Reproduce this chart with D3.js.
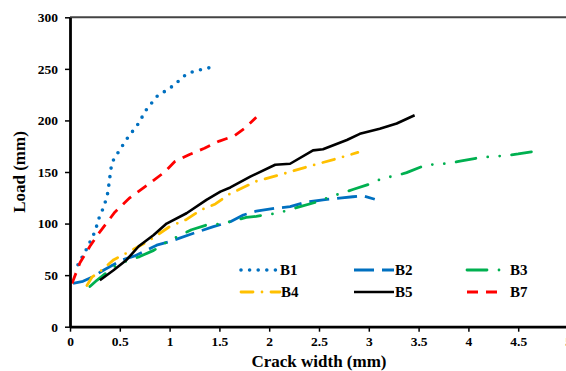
<!DOCTYPE html>
<html>
<head>
<meta charset="utf-8">
<script src="https://cdn.jsdelivr.net/npm/d3@7"></script>
<style>
  body { margin: 0; background: #fff; }
  svg { display: block; }
  text { font-family: "Liberation Serif", "Times New Roman", serif; font-weight: bold; }
</style>
</head>
<body>
<svg class="container"></svg>
<script>
// crack width (mm) / load values
const b1X = [0.08, 0.17, 0.25, 0.30, 0.34, 0.38, 0.40, 0.42, 0.47, 0.57, 0.68, 0.77, 0.88, 1.00, 1.10, 1.17, 1.26, 1.35, 1.44];
const b1Y = [60, 76, 92, 108, 116, 130, 145, 159, 167, 182, 196, 211, 224, 231, 239, 245, 248, 250, 252];

const b2X = [0.03, 0.13, 0.23, 0.34, 0.52, 0.65, 0.87, 1.00, 1.24, 1.44, 1.61, 1.74, 1.87, 2.06, 2.21, 2.37, 2.54, 2.73, 2.84, 2.94, 3.06];
const b2Y = [42, 44, 48.5, 55, 64.7, 68.6, 79, 82.4, 90.6, 97, 101.8, 108.3, 112, 114.8, 116.4, 120.7, 123, 125, 126, 127, 123.6];

const b3X = [0.20, 0.27, 0.44, 0.55, 0.70, 0.84, 0.97, 1.07, 1.22, 1.37, 1.51, 1.61, 1.77, 1.87, 2.08, 2.19, 2.31, 2.48, 2.61, 2.73, 2.84, 3.03, 3.15, 3.26, 3.38, 3.58, 3.70, 3.81, 3.93, 4.13, 4.27, 4.38, 4.50, 4.64];
const b3Y = [39, 45, 58, 63, 68, 74, 82, 87, 94, 98.6, 99.6, 102, 106, 107, 110, 113, 116.4, 121, 126, 129.5, 133, 139, 144.5, 146, 149.4, 157, 157.5, 158.5, 160.7, 164.3, 165, 166, 167.5, 169.7];

const b4X = [0.17, 0.22, 0.32, 0.44, 0.60, 0.77, 1.00, 1.17, 1.31, 1.46, 1.59, 1.87, 2.17, 2.38, 2.68, 2.89];
const b4Y = [40, 48, 55, 65, 73, 82, 97, 104, 113, 119, 128, 141, 149, 155, 163, 169];

const b5X = [0.30, 0.44, 0.57, 0.69, 0.84, 0.97, 1.17, 1.37, 1.51, 1.61, 1.81, 2.06, 2.21, 2.44, 2.54, 2.78, 2.91, 3.11, 3.28, 3.46];
const b5Y = [45, 55, 65, 78, 89, 100, 110, 123, 131, 135, 145.5, 157, 158, 171, 172, 181, 187, 192, 197, 205];

const b7X = [0.02, 0.10, 0.20, 0.30, 0.45, 0.60, 0.80, 0.95, 1.05, 1.20, 1.35, 1.50, 1.65, 1.75, 1.87];
const b7Y = [42, 62, 78, 92, 111, 125, 139, 150, 160, 167, 173, 180, 185, 192, 203];

const xTicks = [0, 0.5, 1, 1.5, 2, 2.5, 3, 3.5, 4, 4.5, 5];
const yTicks = [0, 50, 100, 150, 200, 250, 300];

const width = 566;
const height = 371;

const series = [
  { name: "B1", xs: b1X, ys: b1Y, color: "#0070C0", w: 3.6, dash: "0 8.6", cap: "round" },
  { name: "B2", xs: b2X, ys: b2Y, color: "#0070C0", w: 2.8, dash: "20 8", cap: "butt" },
  { name: "B3", xs: b3X, ys: b3Y, color: "#00B050", w: 2.8, dash: "20 12 0 12 0 12", cap: "round" },
  { name: "B4", xs: b4X, ys: b4Y, color: "#FFC000", w: 2.8, dash: "12 9 0 9", cap: "round" },
  { name: "B5", xs: b5X, ys: b5Y, color: "#000000", w: 2.6, dash: null, cap: "butt" },
  { name: "B7", xs: b7X, ys: b7Y, color: "#FF0000", w: 2.8, dash: "11 8", cap: "butt" }
];

const svg = d3.select(".container");
svg.attr("width", width).attr("height", height);

const xScale = d3.scaleLinear().domain([0, 5]).range([70, 568]);
const yScale = d3.scaleLinear().domain([0, 300]).range([326.7, 17.3]);

// top frame line
svg.append("line")
  .attr("x1", xScale(0)).attr("x2", xScale(5))
  .attr("y1", yScale(300)).attr("y2", yScale(300))
  .attr("stroke", "#444").attr("stroke-width", 2);

const line = d3.line()
  .x((d) => xScale(d[0]))
  .y((d) => yScale(d[1]));

svg.selectAll("path.series")
  .data(series)
  .enter()
  .append("path")
  .attr("class", "series")
  .attr("d", (s) => line(s.xs.map((v, i) => [v, s.ys[i]])))
  .attr("fill", "none")
  .attr("stroke", (s) => s.color)
  .attr("stroke-width", (s) => s.w)
  .attr("stroke-dasharray", (s) => s.dash)
  .attr("stroke-linecap", (s) => s.cap)
  .attr("stroke-linejoin", "round");

// axes
const xAxis = svg.append("g")
  .attr("transform", `translate(0,${yScale(0)})`)
  .call(d3.axisBottom(xScale).tickValues(xTicks).tickFormat((d) => String(d)).tickSize(5).tickSizeOuter(0).tickPadding(5));

const yAxis = svg.append("g")
  .attr("transform", `translate(${xScale(0)},0)`)
  .call(d3.axisLeft(yScale).tickValues(yTicks).tickSize(5).tickSizeOuter(0).tickPadding(7));

[xAxis, yAxis].forEach((g) => {
  g.select(".domain").attr("stroke", "#000").attr("stroke-width", 2.8);
  g.selectAll(".tick line").attr("stroke", "#000").attr("stroke-width", 1.5);
  g.selectAll(".tick text")
    .attr("fill", "#000")
    .style("font-size", "13.5px")
    .style("font-family", "'Liberation Serif', 'Times New Roman', serif")
    .style("font-weight", "bold");
});

// axis titles
svg.append("text")
  .attr("x", 319).attr("y", 367)
  .attr("text-anchor", "middle")
  .style("font-size", "17px")
  .text("Crack width (mm)");

svg.append("text")
  .attr("transform", "translate(25,172) rotate(-90)")
  .attr("text-anchor", "middle")
  .style("font-size", "17px")
  .text("Load (mm)");

// legend
const legendPos = [
  { x: 241, y: 270 }, { x: 354, y: 270 }, { x: 467, y: 270 },
  { x: 241, y: 292 }, { x: 354, y: 292 }, { x: 467, y: 292 }
];
const lens = [38, 40, 36, 39, 40, 34];

const legend = svg.selectAll("g.legend")
  .data(series)
  .enter()
  .append("g")
  .attr("class", "legend")
  .attr("transform", (s, i) => `translate(${legendPos[i].x},${legendPos[i].y})`);

legend.append("line")
  .attr("x1", 0).attr("x2", (s, i) => lens[i])
  .attr("y1", 0).attr("y2", 0)
  .attr("stroke", (s) => s.color)
  .attr("stroke-width", (s) => s.w)
  .attr("stroke-dasharray", (s) => s.dash)
  .attr("stroke-linecap", (s) => s.cap);

legend.append("text")
  .attr("x", (s, i) => (i % 3 === 2 ? 43 : lens[i] + 1))
  .attr("y", 5)
  .style("font-size", "15px")
  .text((s) => s.name);
</script>
</body>
</html>
